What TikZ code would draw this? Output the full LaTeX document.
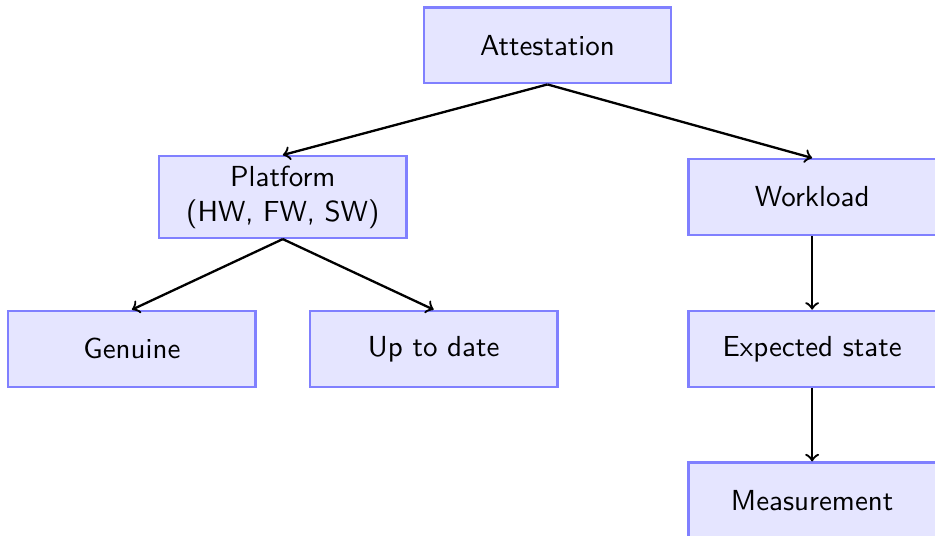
\documentclass[tikz,border=0pt]{standalone}
\usepackage{tikz}
\usetikzlibrary{positioning, arrows}
\renewcommand{\familydefault}{\sfdefault}

\begin{document}
\begin{tikzpicture}[on grid, node distance=1.84cm and 3.21cm,
    box/.style={draw=blue!50, fill=blue!10, thick, minimum width=3cm, minimum height=0.92cm, align=center},
    link/.style={->, thick}]
    \useasboundingbox (-6.64,0.55) rectangle (4.70,-5.95);
    \node [box] (att) {Attestation};
    \node [box,below left=of att] (plat) {Platform\\(HW, FW, SW)};
    \node [box,below right=of att] (work) {Workload};
    \node [box,below left=1.84cm and 1.83cm of plat] (gen) {Genuine};
    \node [box,below right=1.84cm and 1.83cm of plat] (upd) {Up to date};
    \node [box,below=of work] (exp) {Expected state};
    \node [box,below=of exp] (meas) {Measurement};
    \draw [link] (att.south) -- (plat.north);
    \draw [link] (att.south) -- (work.north);
    \draw [link] (plat.south) -- (gen.north);
    \draw [link] (plat.south) -- (upd.north);
    \draw [link] (work.south) -- (exp.north);
    \draw [link] (exp.south) -- (meas.north);
  \end{tikzpicture}
\end{document}
